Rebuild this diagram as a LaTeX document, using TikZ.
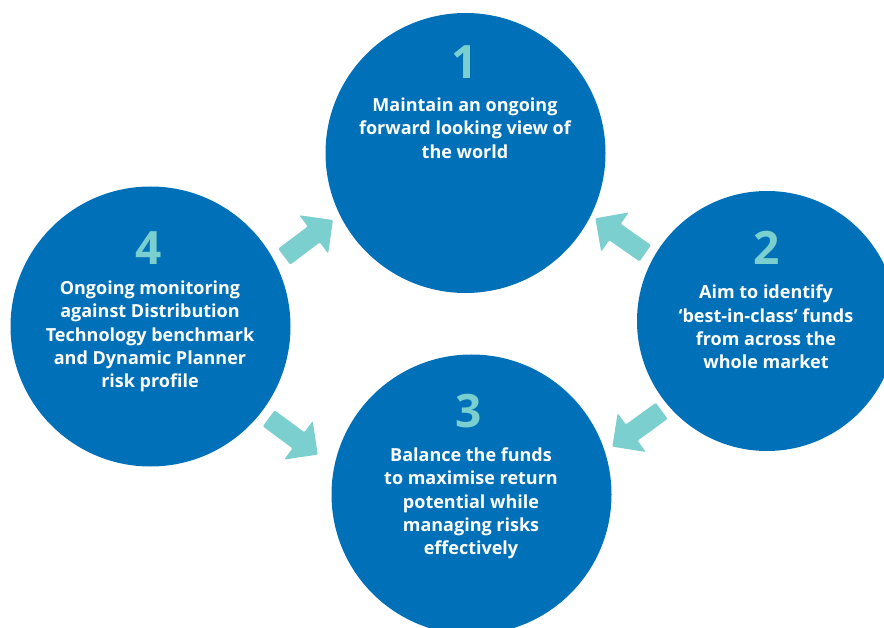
\documentclass[tikz,border=0pt]{standalone}
\usepackage{fontspec}
\setmainfont{Open Sans}
\definecolor{circblue}{HTML}{0071B9}
\definecolor{arrowteal}{HTML}{7BCFCF}
\tikzset{
  circ/.style={circle, fill=circblue, inner sep=0pt},
  numtext/.style={text=arrowteal, font=\fontsize{46}{46}\selectfont\bfseries, inner sep=0pt},
  bodytext/.style={text=white, align=center, font=\fontsize{18}{23.3}\selectfont\bfseries, inner sep=0pt},
  blockarrow/.style={fill=arrowteal, rounded corners=1.2pt}
}
\newcommand\blockarr[3]{%
  \fill[blockarrow, shift={(#1,#2)}, rotate=#3]
    (0,-10) -- (37,-10) -- (37,-24) -- (61,0) -- (37,24) -- (37,10) -- (0,10) -- cycle;}
\begin{document}
\begin{tikzpicture}[x=1pt, y=-1pt]
\useasboundingbox (0,0) rectangle (884,628);
\clip (0,0) rectangle (884,628);
% circles
\node[circ, minimum size=280pt] (c1) at (465.5,153) {};
\node[circ, minimum size=260pt] (c2) at (767,321) {};
\node[circ, minimum size=280pt] (c3) at (471.5,494.5) {};
\node[circ, minimum size=280pt] (c4) at (150.5,326.5) {};
% numbers
\node[numtext] (n1) at (465,62) {1};
\node[numtext] (n2) at (767,248) {2};
\node[numtext] (n3) at (469,411) {3};
\node[numtext] (n4) at (149,248) {4};
% texts
\node[bodytext] (t1) at (465,128) {Maintain an ongoing\\forward looking view of\\the world};
\node[bodytext] (t2) at (766,327) {Aim to identify\\‘best-in-class’ funds\\from across the\\whole market};
\node[bodytext] (t3) at (471,503.5) {Balance the funds\\to maximise return\\potential while\\managing risks\\effectively};
\node[bodytext] (t4) at (150,336.5) {Ongoing monitoring\\against Distribution\\Technology benchmark\\and Dynamic Planner\\risk profile};
% arrows
\blockarr{284.2}{256.7}{37}
\blockarr{645.3}{253.3}{145}
\blockarr{661.7}{410.8}{216}
\blockarr{268.7}{418.3}{-36.5}
\end{tikzpicture}
\end{document}
